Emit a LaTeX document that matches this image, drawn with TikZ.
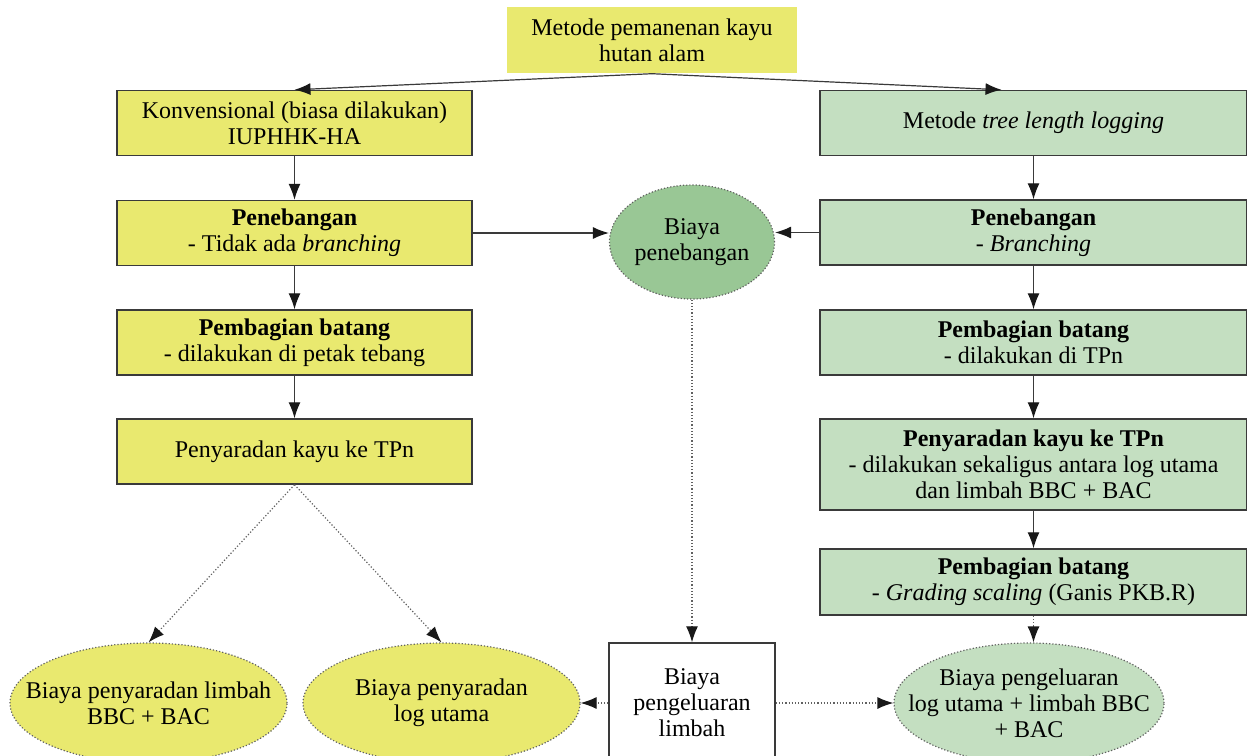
\documentclass[tikz,border=0pt]{standalone}
\usepackage{fontspec}
\setmainfont{Liberation Serif}
\usetikzlibrary{shapes.geometric,arrows.meta}
\definecolor{kuning}{HTML}{E9E96F}
\definecolor{hijaumuda}{HTML}{C4DFC1}
\definecolor{hijautua}{HTML}{99C795}
\definecolor{garis}{HTML}{3A3A3A}
\tikzset{
  kotak/.style={draw=garis, line width=0.7pt, align=center, inner sep=2pt, font=\fontsize{12}{13}\selectfont},
  kiri/.style={kotak, fill=kuning, minimum width=177.5pt, minimum height=32.5pt},
  kanan/.style={kotak, fill=hijaumuda, minimum width=213.5pt, minimum height=32.5pt},
  elips/.style={ellipse, draw=garis!80, densely dotted, line width=0.6pt, align=center, inner xsep=-30pt, inner ysep=-10pt, font=\fontsize{12}{13}\selectfont},
  panah/.style={-{Latex[length=8pt,width=6pt,color=black!90]}, line width=0.6pt, garis},
  titik/.style={panah, densely dotted, draw=garis!80}
}
\begin{document}
\begin{tikzpicture}[x=0.5pt,y=-0.5pt]
  \useasboundingbox (0,0) rectangle (1247,755);
  % judul
  \node[kotak, draw=none, fill=kuning, minimum width=145pt, minimum height=33pt] (judul) at (652,40) {Metode pemanenan kayu\\hutan alam};
  % kolom kiri: konvensional
  \node[kiri] (k1) at (294.5,123) {Konvensional (biasa dilakukan)\\IUPHHK-HA};
  \node[kiri] (k2) at (294.5,233) {\textbf{Penebangan}\\- Tidak ada \textit{branching}};
  \node[kiri] (k3) at (294.5,342.5) {\textbf{Pembagian batang}\\- dilakukan di petak tebang};
  \node[kiri] (k4) at (294.5,451.5) {Penyaradan kayu ke TPn};
  % kolom kanan: tree length logging
  \node[kanan] (t1) at (1033.5,123) {Metode \textit{tree length logging}};
  \node[kanan] (t2) at (1033.5,232.5) {\textbf{Penebangan}\\- \textit{Branching}};
  \node[kanan] (t3) at (1033.5,342.5) {\textbf{Pembagian batang}\\- dilakukan di TPn};
  \node[kanan, minimum height=45.5pt] (t4) at (1033.5,464.5) {\textbf{Penyaradan kayu ke TPn}\\- dilakukan sekaligus antara log utama\\dan limbah BBC + BAC};
  \node[kanan, minimum height=33pt] (t5) at (1033.5,582) {\textbf{Pembagian batang}\\- \textit{Grading scaling} (Ganis PKB.R)};
  % biaya
  \node[elips, fill=hijautua, minimum width=82.5pt, minimum height=57pt] (bpen) at (692,242) {Biaya\\penebangan};
  \node[kotak, fill=white, minimum width=83pt, minimum height=60pt] (blim) at (692,703) {Biaya\\pengeluaran\\limbah};
  \node[elips, fill=kuning, minimum width=138.5pt, minimum height=60pt] (bsl) at (148.5,703) {Biaya penyaradan limbah\\BBC + BAC};
  \node[elips, fill=kuning, minimum width=138.5pt, minimum height=60pt] (bsu) at (441.5,703) {Biaya penyaradan\\log utama};
  \node[elips, fill=hijaumuda, minimum width=135pt, minimum height=60pt] (bpl) at (1029,703) {Biaya pengeluaran\\log utama + limbah BBC\\+ BAC};
  % panah
  \draw[panah] (judul.south) -- (k1.north);
  \draw[panah] (judul.south) -- ([xshift=-16pt]t1.north);
  \draw[panah] (k1) -- (k2);
  \draw[panah] (k2) -- (k3);
  \draw[panah] (k3) -- (k4);
  \draw[panah] (t1) -- (t2);
  \draw[panah] (t2) -- (t3);
  \draw[panah] (t3) -- (t4);
  \draw[panah] (t4) -- (t5);
  \draw[panah] (k2.east) -- (k2.east -| bpen.west);
  \draw[panah] (t2.west) -- (t2.west -| bpen.east);
  \draw[titik] (bpen.south) -- (blim.north);
  \draw[titik] (k4.south) -- (bsl.north);
  \draw[titik] (k4.south) -- (bsu.north);
  \draw[titik] (t5.south) -- (t5.south |- bpl.north);
  \draw[titik] (blim.west) -- (bsu.east);
  \draw[titik] (blim.east) -- (bpl.west);
\end{tikzpicture}
\end{document}
